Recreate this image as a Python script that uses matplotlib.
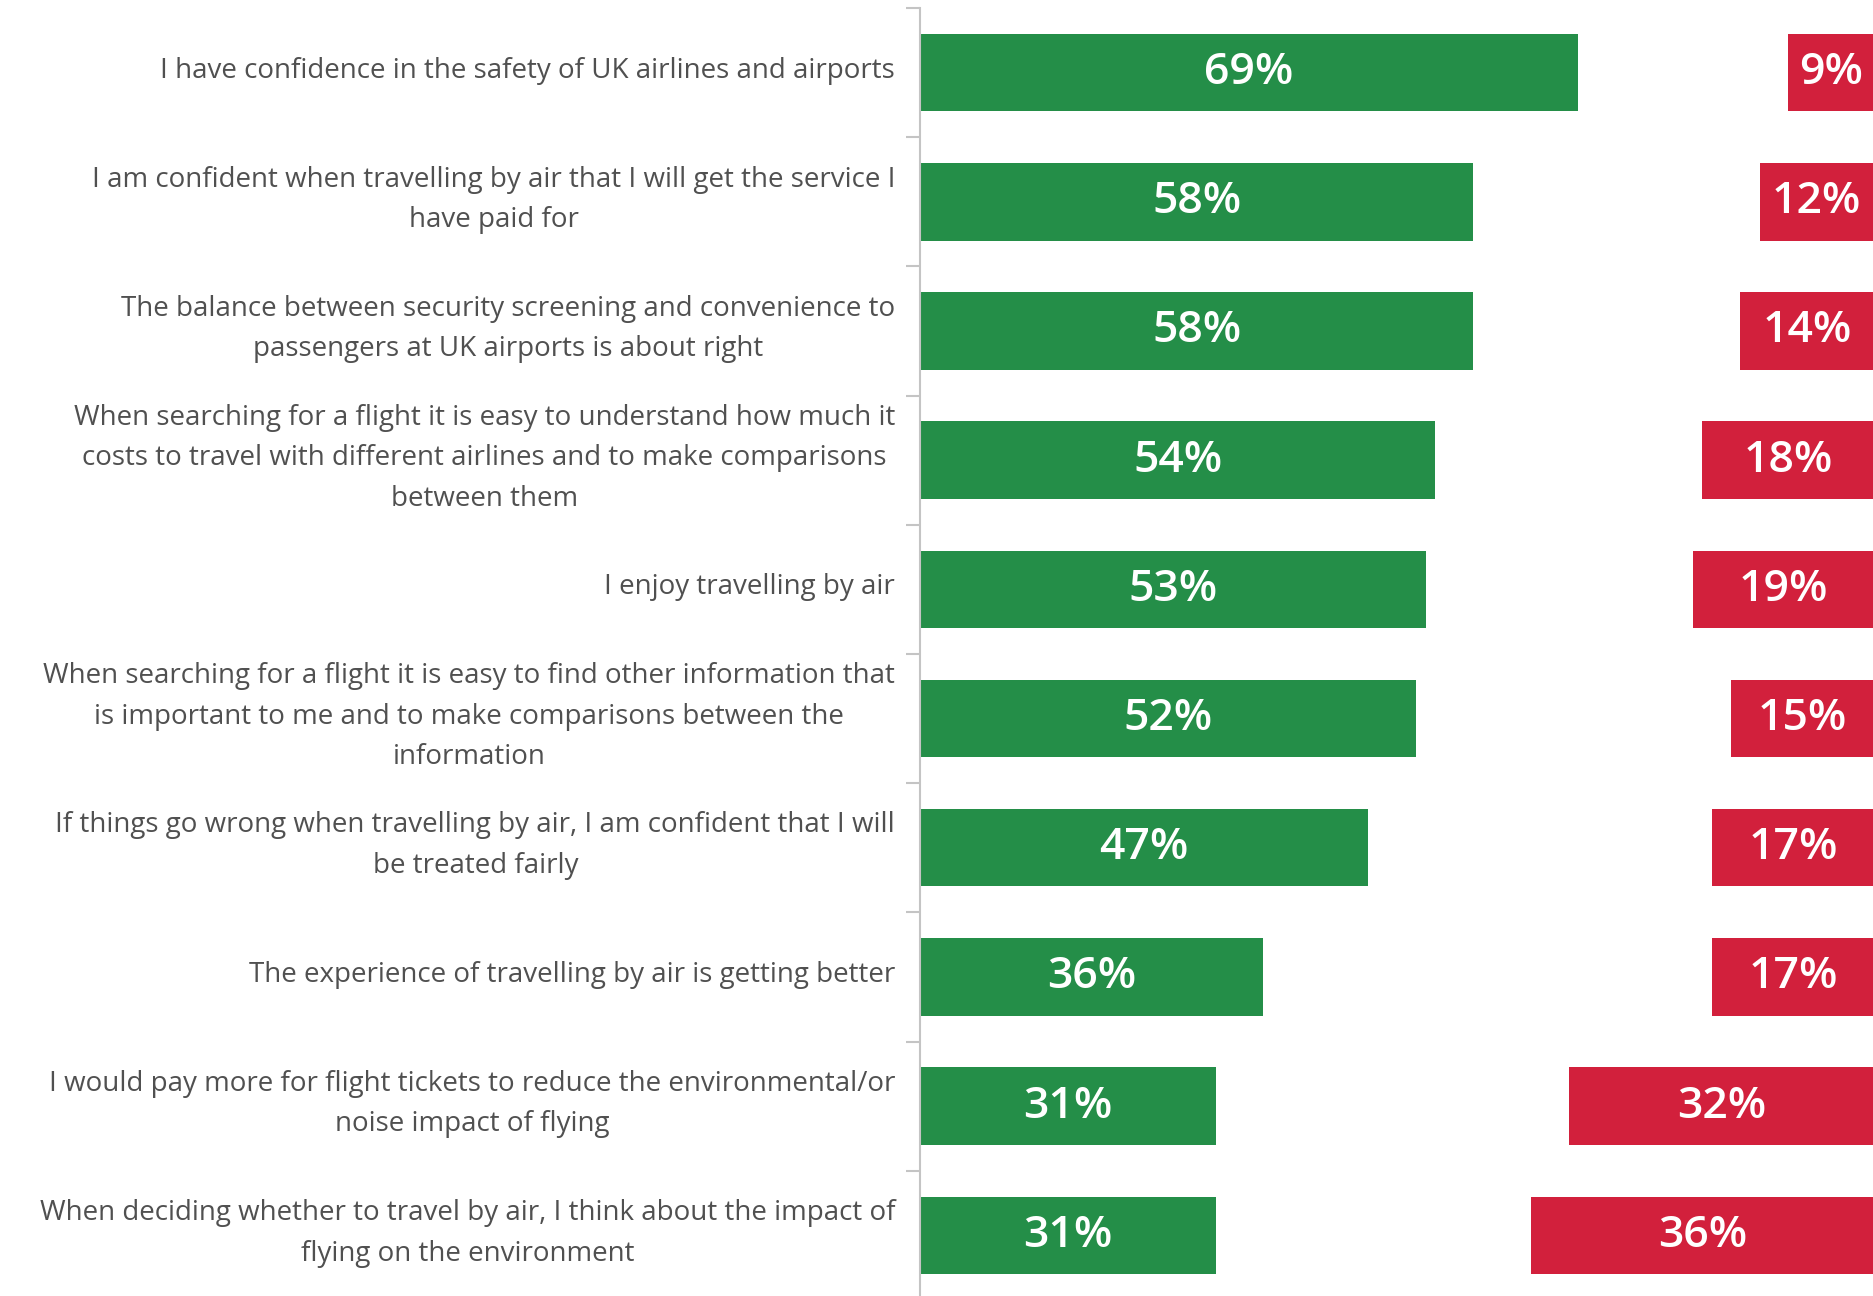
import matplotlib
matplotlib.use("Agg")
import matplotlib.pyplot as plt
import numpy as np

# survey statements, top to bottom
labels = [
    "I have confidence in the safety of UK airlines and airports",
    "I am confident when travelling by air that I will get the service I\nhave paid for",
    "The balance between security screening and convenience to\npassengers at UK airports is about right",
    "When searching for a flight it is easy to understand how much it\ncosts to travel with different airlines and to make comparisons\nbetween them",
    "I enjoy travelling by air",
    "When searching for a flight it is easy to find other information that\nis important to me and to make comparisons between the\ninformation",
    "If things go wrong when travelling by air, I am confident that I will\nbe treated fairly",
    "The experience of travelling by air is getting better",
    "I would pay more for flight tickets to reduce the environmental/or\nnoise impact of flying",
    "When deciding whether to travel by air, I think about the impact of\nflying on the environment",
]
agree = [69, 58, 58, 54, 53, 52, 47, 36, 31, 31]
disagree = [9, 12, 14, 18, 19, 15, 17, 17, 32, 36]

green = "#248E48"
red = "#D2203C"
grey = "#C4C4C4"

fig = plt.figure(figsize=(18.74, 12.96), dpi=100)
ax = fig.add_axes([920 / 1874, -0.003, 1 - 920 / 1874, 1 - 8 / 1296 + 0.003])

y = np.arange(len(labels))
ax.barh(y, agree, height=0.6, color=green)
# disagree bars hang off the right edge of a 0-100 scale
left = [100 - d for d in disagree]
ax.barh(y, disagree, left=left, height=0.6, color=red)

for i in range(len(labels)):
    ax.text(agree[i] / 2, i, f"{agree[i]}%", ha="center", va="center",
            color="white", fontsize=32, fontweight=600, family="Open Sans")
    ax.text(100 - disagree[i] / 2, i, f"{disagree[i]}%", ha="center", va="center",
            color="white", fontsize=32, fontweight=600, family="Open Sans")
    ax.text(-0.026, i - 0.015, labels[i], transform=ax.get_yaxis_transform(),
            ha="right", va="center", multialignment="center",
            fontsize=20, color="#505050", family="Open Sans", linespacing=1.6)

ax.set_xlim(0, 100)
ax.set_ylim(len(labels) - 0.5, -0.5)
ax.set_yticks(np.arange(-0.5, len(labels), 1.0))
ax.set_yticklabels([])
ax.tick_params(axis="y", length=10, width=1.5, color=grey)
ax.set_xticks([])
for s in ["top", "right", "bottom"]:
    ax.spines[s].set_visible(False)
ax.spines["left"].set_color(grey)
ax.spines["left"].set_linewidth(1.5)

fig.savefig("out.png", dpi=100)
